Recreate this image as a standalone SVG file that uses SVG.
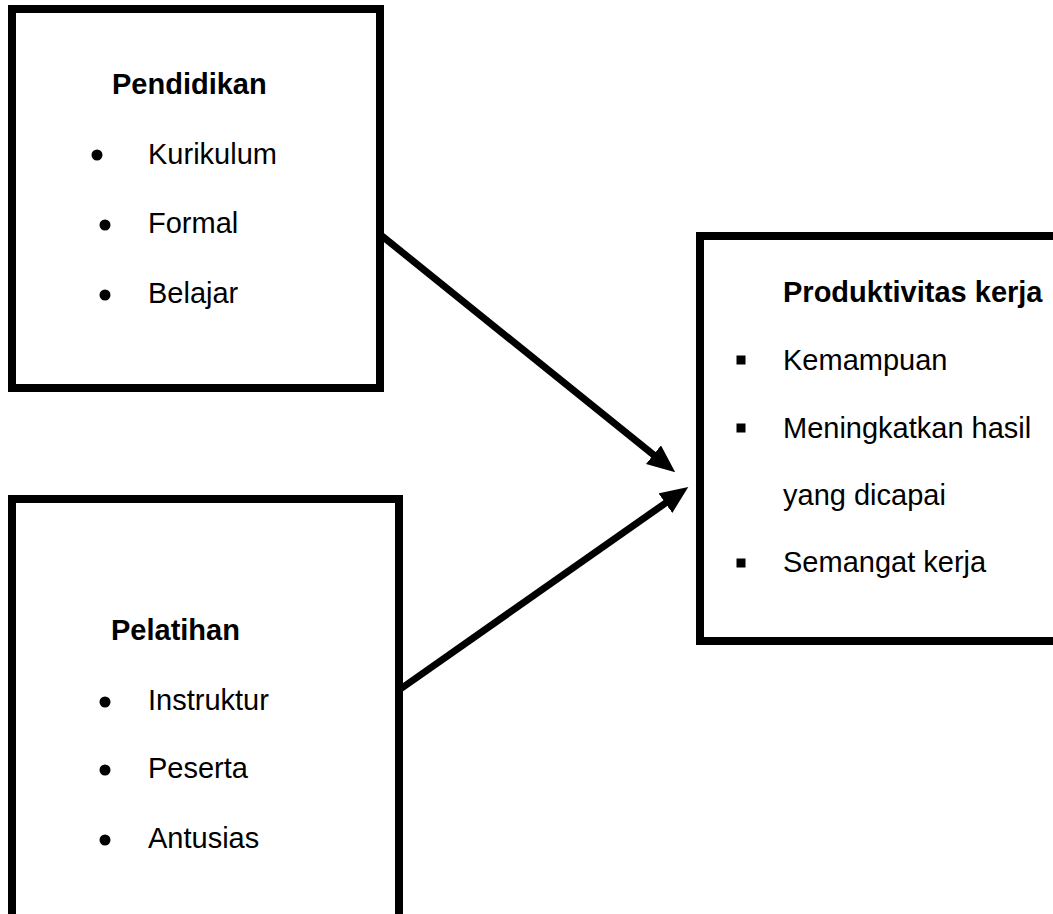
<svg xmlns="http://www.w3.org/2000/svg" width="1053" height="914" viewBox="0 0 1053 914">
<style>
.box{fill:#fff;stroke:#000;stroke-width:8}
.t{font-family:"Liberation Sans",Arial,sans-serif;font-size:29px;fill:#000}
.b{font-weight:bold}
.conn{stroke:#000;stroke-width:7;fill:none}
</style>
<defs>
<marker id="ah" viewBox="0 0 28 24" refX="2" refY="12" markerWidth="28" markerHeight="24" markerUnits="userSpaceOnUse" orient="auto">
<path d="M0,0 L28,12 L0,24 z" fill="#000"/>
</marker>
<circle id="dot" r="5.5" fill="#000"/>
<rect id="sq" x="-4.5" y="-4.5" width="9" height="9" fill="#000"/>
</defs>
<rect width="1053" height="914" fill="#fff"/>
<g id="pendidikan">
<rect class="box" x="12" y="9" width="368" height="379"/>
<text class="t b" x="112" y="94">Pendidikan</text>
<use href="#dot" x="97" y="155"/>
<text class="t" x="148" y="164">Kurikulum</text>
<use href="#dot" x="105" y="225"/>
<text class="t" x="148" y="233">Formal</text>
<use href="#dot" x="105" y="295"/>
<text class="t" x="148" y="303">Belajar</text>
</g>
<g id="pelatihan">
<rect class="box" x="12" y="499" width="387" height="440"/>
<text class="t b" x="111" y="640">Pelatihan</text>
<use href="#dot" x="105" y="702"/>
<text class="t" x="148" y="710">Instruktur</text>
<use href="#dot" x="105" y="770"/>
<text class="t" x="148" y="778">Peserta</text>
<use href="#dot" x="105" y="840"/>
<text class="t" x="148" y="848">Antusias</text>
</g>
<g id="produktivitas">
<rect class="box" x="700" y="236" width="370" height="405"/>
<text class="t b" x="783" y="302">Produktivitas kerja</text>
<use href="#sq" x="741" y="360"/>
<text class="t" x="783" y="370">Kemampuan</text>
<use href="#sq" x="741" y="428"/>
<text class="t" x="783" y="438">Meningkatkan hasil</text>
<text class="t" x="783" y="505">yang dicapai</text>
<use href="#sq" x="741" y="563"/>
<text class="t" x="783" y="572">Semangat kerja</text>
</g>
<g id="connectors">
<line class="conn" x1="382" y1="236" x2="655" y2="456" marker-end="url(#ah)"/>
<line class="conn" x1="399" y1="690" x2="667" y2="502" marker-end="url(#ah)"/>
</g>
</svg>
